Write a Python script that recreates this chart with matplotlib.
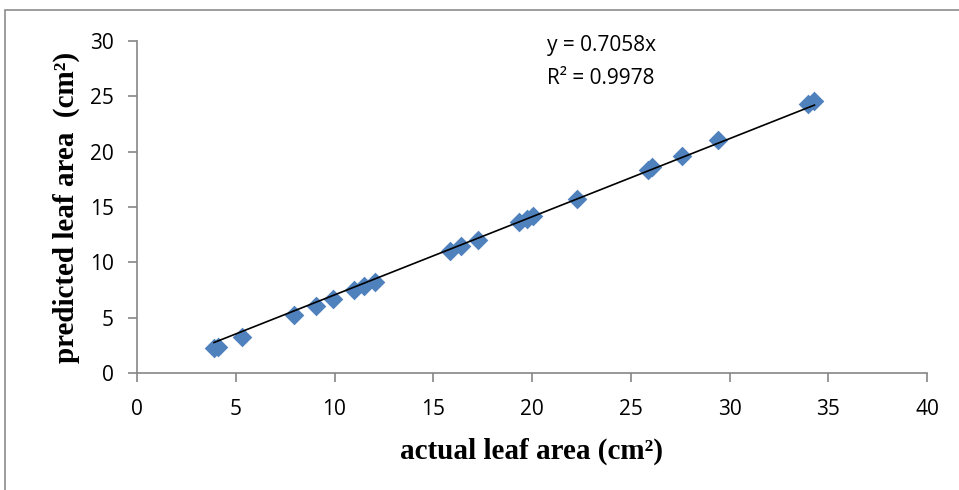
import matplotlib.pyplot as plt
from matplotlib.patches import Rectangle

# actual vs predicted leaf area (cm2)
actual = [3.9, 4.1, 5.3, 7.95, 9.05, 9.9, 11.0, 11.5, 12.05, 15.85, 16.4, 17.25,
          19.35, 19.75, 20.05, 22.3, 25.85, 26.1, 27.6, 29.4, 33.95, 34.3]
predicted = [2.25, 2.35, 3.25, 5.25, 6.05, 6.7, 7.5, 7.85, 8.2, 11.0, 11.45, 12.05,
             13.6, 13.9, 14.2, 15.75, 18.35, 18.6, 19.6, 21.05, 24.35, 24.6]
slope = 0.7058
r2 = 0.9978

x_ticks = [0, 5, 10, 15, 20, 25, 30, 35, 40]
y_ticks = [0, 5, 10, 15, 20, 25, 30]

fig = plt.figure(figsize=(9.59, 4.9), dpi=100)
ax = fig.add_axes([137/959, 1 - 373/490, 790/959, 332/490])

# chart-area border
fig.patches.append(Rectangle((5/959, -0.1), 1.2, 1 - 10/490 + 0.1, transform=fig.transFigure,
                             fill=False, edgecolor='#8c8c8c', lw=1.2))

ax.scatter(actual, predicted, marker='D', s=100, color='#4f81bd', zorder=2, linewidths=0)
xs = [min(actual), max(actual)]
ax.plot(xs, [slope * v for v in xs], color='black', lw=1.2, zorder=3)

ax.set_xlim(0, 40)
ax.set_ylim(0, 30)
ax.set_xticks(x_ticks)
ax.set_yticks(y_ticks)

for s in ['top', 'right']:
    ax.spines[s].set_visible(False)
for s in ['left', 'bottom']:
    ax.spines[s].set_color('#868686')
    ax.spines[s].set_linewidth(1.2)
ax.tick_params(color='#868686', width=1.2, length=6.5, labelsize=15)
ax.tick_params(axis='y', pad=10)
ax.tick_params(axis='x', pad=12)
for lab in ax.get_xticklabels() + ax.get_yticklabels():
    lab.set_fontfamily('Open Sans')

ax.set_xlabel('actual leaf area (cm²)', fontfamily='Liberation Serif', fontweight='bold',
              fontsize=21, labelpad=13)
ax.set_ylabel('predicted leaf area  (cm²)', fontfamily='Liberation Serif', fontweight='bold',
              fontsize=21, labelpad=7)

ax.text(0.519, 0.985, f'y = {slope}x', transform=ax.transAxes, fontfamily='Open Sans',
        fontsize=15, ha='left', va='center')
ax.text(0.519, 0.888, f'R² = {r2}', transform=ax.transAxes, fontfamily='Open Sans',
        fontsize=15, ha='left', va='center')

fig.savefig('out.png', dpi=100)
